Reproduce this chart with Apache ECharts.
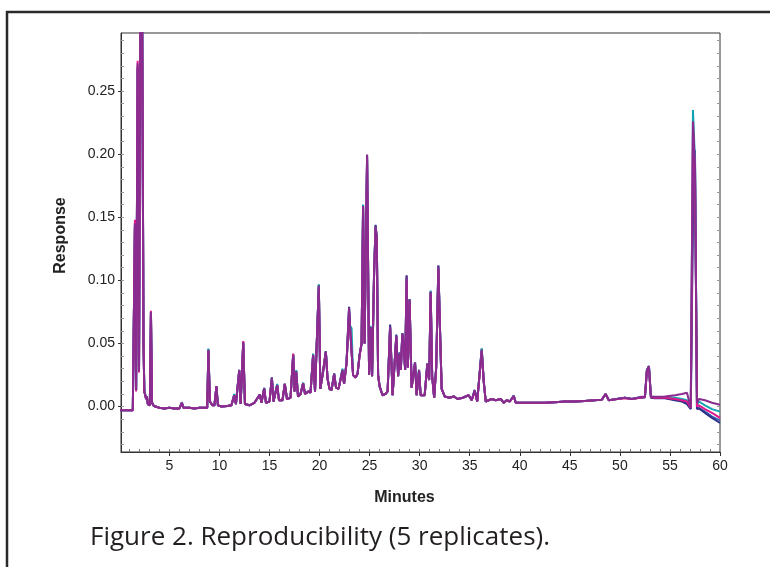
<!DOCTYPE html>
<html>
<head>
<meta charset="utf-8">
<script src="https://cdn.jsdelivr.net/npm/echarts@6/dist/echarts.min.js"></script>
<style>
html,body{margin:0;padding:0;background:#fff;}
#chart{width:770px;height:567px;}
</style>
</head>
<body>
<div id="chart"></div>
<script>
// Retention time (minutes), shared by all replicates
const minutes = [
  0, 1.35, 1.45, 1.56, 1.68, 1.83, 1.97, 2.2, 2.42, 2.5,
  2.6, 2.68, 2.75, 2.85, 2.95, 3.05, 3.16, 3.27, 3.4, 3.6,
  4.0, 4.5, 5.0, 5.5, 6.0, 6.25, 6.4, 7.0, 7.5, 8.0,
  8.5, 8.78, 8.9, 9.05, 9.3, 9.5, 9.7, 9.85, 10.2, 10.8,
  11.2, 11.48, 11.65, 11.98, 12.12, 12.38, 12.55, 13.0, 13.5, 14.04,
  14.2, 14.47, 14.65, 15.0, 15.24, 15.4, 15.77, 15.95, 16.3, 16.53,
  16.75, 17.1, 17.37, 17.5, 17.67, 17.85, 18.1, 18.36, 18.55, 18.9,
  19.1, 19.36, 19.55, 19.93, 20.08, 20.36, 20.63, 20.8, 21.0, 21.2,
  21.46, 21.65, 21.9, 22.29, 22.45, 22.7, 22.95, 23.05, 23.2, 23.35,
  23.6, 23.8, 24.0, 24.2, 24.35, 24.5, 24.75, 24.95, 25.1, 25.25,
  25.45, 25.6, 25.72, 25.85, 26.0, 26.3, 26.6, 26.8, 27.05, 27.3,
  27.67, 27.85, 28.0, 28.12, 28.27, 28.4, 28.55, 28.7, 28.82, 28.99,
  29.2, 29.54, 29.7, 29.94, 30.1, 30.5, 30.77, 30.95, 31.1, 31.25,
  31.45, 31.65, 31.87, 32.05, 32.2, 32.5, 33.0, 33.4, 33.8, 34.3,
  34.9, 35.2, 35.5, 35.75, 36.2, 36.4, 36.6, 37.2, 37.6, 38.1,
  38.4, 38.7, 39.0, 39.4, 39.6, 40.5, 41.5, 42.5, 43.5, 44.5,
  45.5, 46.5, 47.5, 48.2, 48.57, 48.9, 49.7, 50.5, 51.2, 52.0,
  52.5, 52.7, 52.9, 53.1, 53.5, 54.5, 55.5, 56.2, 56.7, 57.08,
  57.3, 57.5, 57.7, 57.9, 58.5, 59.2, 60.0
];

// Replicate responses
const replicate1 = [ // blue
  -0.003, -0.003, -0.002, 0.145, 0.013, 0.270, 0.028, 0.48, 0.050, 0.012,
  0.013, 0.006, 0.008, 0.002, 0.003, 0.001, 0.075, 0.003, 0.001, 0.0,
  -0.001, -0.0015, -0.001, -0.0015, -0.0015, 0.003, -0.001, -0.001, -0.0015, -0.001,
  -0.001, -0.001, 0.045, 0.004, 0.001, 0.001, 0.016, 0.001, 0.0, 0.0005,
  0.001, 0.009, 0.002, 0.029, 0.002, 0.051, 0.002, 0.001, 0.003, 0.0095,
  0.003, 0.0146, 0.003, 0.004, 0.023, 0.004, 0.017, 0.005, 0.005, 0.018,
  0.006, 0.007, 0.041, 0.012, 0.028, 0.008, 0.010, 0.0185, 0.010, 0.012,
  0.011, 0.041, 0.012, 0.096, 0.014, 0.028, 0.0437, 0.022, 0.014, 0.013,
  0.026, 0.015, 0.014, 0.029, 0.018, 0.035, 0.078, 0.063, 0.062, 0.025,
  0.023, 0.026, 0.041, 0.050, 0.159, 0.050, 0.198, 0.025, 0.063, 0.024,
  0.106, 0.143, 0.133, 0.025, 0.016, 0.009, 0.010, 0.012, 0.064, 0.009,
  0.056, 0.024, 0.042, 0.029, 0.058, 0.050, 0.029, 0.103, 0.031, 0.085,
  0.015, 0.035, 0.009, 0.029, 0.009, 0.009, 0.034, 0.021, 0.091, 0.024,
  0.007, 0.031, 0.111, 0.056, 0.014, 0.008, 0.007, 0.008, 0.006, 0.007,
  0.009, 0.005, 0.013, 0.004, 0.045, 0.020, 0.004, 0.006, 0.005, 0.006,
  0.003, 0.005, 0.004, 0.0085, 0.003, 0.003, 0.003, 0.003, 0.0035, 0.004,
  0.004, 0.0045, 0.005, 0.0055, 0.010, 0.005, 0.006, 0.007, 0.006, 0.0072,
  0.0074, 0.029, 0.032, 0.0072, 0.0068, 0.0068, 0.0055, 0.0045, 0.003, -0.0015,
  0.170, 0.195, -0.001, -0.001, -0.004, -0.008, -0.011
];
const replicate2 = [ // navy
  -0.003, -0.003, -0.002, 0.143, 0.013, 0.268, 0.028, 0.48, 0.050, 0.012,
  0.013, 0.006, 0.008, 0.002, 0.003, 0.001, 0.075, 0.003, 0.001, 0.0,
  -0.001, -0.0015, -0.001, -0.0015, -0.0015, 0.003, -0.001, -0.001, -0.0015, -0.001,
  -0.001, -0.001, 0.045, 0.004, 0.001, 0.001, 0.016, 0.001, 0.0, 0.0005,
  0.001, 0.009, 0.002, 0.029, 0.002, 0.051, 0.002, 0.001, 0.003, 0.0095,
  0.003, 0.0146, 0.003, 0.004, 0.023, 0.004, 0.017, 0.005, 0.005, 0.018,
  0.006, 0.007, 0.041, 0.012, 0.028, 0.008, 0.010, 0.0185, 0.010, 0.012,
  0.011, 0.041, 0.012, 0.096, 0.014, 0.028, 0.0437, 0.022, 0.014, 0.013,
  0.026, 0.015, 0.014, 0.029, 0.018, 0.035, 0.079, 0.063, 0.062, 0.025,
  0.023, 0.026, 0.041, 0.050, 0.160, 0.050, 0.199, 0.025, 0.063, 0.024,
  0.106, 0.144, 0.134, 0.025, 0.016, 0.009, 0.010, 0.012, 0.065, 0.009,
  0.057, 0.024, 0.043, 0.029, 0.058, 0.050, 0.029, 0.104, 0.031, 0.085,
  0.015, 0.035, 0.009, 0.029, 0.009, 0.009, 0.034, 0.021, 0.091, 0.024,
  0.007, 0.031, 0.112, 0.056, 0.014, 0.008, 0.007, 0.008, 0.006, 0.007,
  0.009, 0.005, 0.013, 0.004, 0.046, 0.020, 0.004, 0.006, 0.005, 0.006,
  0.003, 0.005, 0.004, 0.0085, 0.003, 0.003, 0.003, 0.003, 0.0035, 0.004,
  0.004, 0.0045, 0.005, 0.0055, 0.010, 0.005, 0.006, 0.007, 0.006, 0.007,
  0.0072, 0.029, 0.032, 0.007, 0.0065, 0.0065, 0.005, 0.004, 0.002, -0.002,
  0.150, 0.203, -0.002, -0.0015, -0.005, -0.009, -0.013
];
const replicate3 = [ // cyan
  -0.003, -0.003, -0.002, 0.142, 0.014, 0.265, 0.029, 0.49, 0.051, 0.013,
  0.013, 0.007, 0.008, 0.002, 0.003, 0.001, 0.074, 0.003, 0.001, 0.0,
  -0.001, -0.0015, -0.001, -0.0015, -0.0015, 0.0035, -0.001, -0.001, -0.0015, -0.001,
  -0.001, -0.001, 0.046, 0.004, 0.001, 0.001, 0.015, 0.001, 0.0, 0.0005,
  0.001, 0.010, 0.002, 0.029, 0.002, 0.050, 0.002, 0.001, 0.003, 0.0095,
  0.003, 0.015, 0.003, 0.004, 0.023, 0.004, 0.018, 0.005, 0.005, 0.018,
  0.006, 0.007, 0.041, 0.012, 0.029, 0.008, 0.010, 0.019, 0.010, 0.012,
  0.011, 0.042, 0.012, 0.097, 0.014, 0.028, 0.044, 0.022, 0.014, 0.013,
  0.026, 0.015, 0.014, 0.030, 0.018, 0.035, 0.072, 0.064, 0.062, 0.025,
  0.023, 0.026, 0.041, 0.050, 0.160, 0.050, 0.195, 0.025, 0.064, 0.024,
  0.107, 0.142, 0.133, 0.025, 0.016, 0.009, 0.010, 0.012, 0.063, 0.009,
  0.056, 0.024, 0.042, 0.029, 0.058, 0.050, 0.029, 0.102, 0.031, 0.085,
  0.015, 0.035, 0.009, 0.029, 0.009, 0.009, 0.034, 0.021, 0.092, 0.024,
  0.007, 0.031, 0.110, 0.056, 0.014, 0.008, 0.007, 0.008, 0.006, 0.007,
  0.009, 0.005, 0.013, 0.004, 0.046, 0.020, 0.004, 0.006, 0.005, 0.006,
  0.003, 0.005, 0.004, 0.0085, 0.003, 0.003, 0.003, 0.003, 0.0035, 0.004,
  0.004, 0.0045, 0.005, 0.0055, 0.010, 0.005, 0.006, 0.007, 0.006, 0.0075,
  0.0078, 0.029, 0.032, 0.008, 0.0075, 0.0075, 0.007, 0.006, 0.005, 0.0,
  0.235, 0.195, 0.001, 0.004, 0.001, -0.002, -0.004
];
const replicate4 = [ // magenta
  -0.003, -0.003, -0.002, 0.148, 0.012, 0.274, 0.027, 0.47, 0.049, 0.012,
  0.013, 0.006, 0.008, 0.002, 0.003, 0.001, 0.076, 0.003, 0.001, 0.0,
  -0.001, -0.0015, -0.001, -0.0015, -0.0015, 0.003, -0.001, -0.001, -0.0015, -0.001,
  -0.001, -0.001, 0.044, 0.004, 0.001, 0.001, 0.016, 0.001, 0.0, 0.0005,
  0.001, 0.009, 0.002, 0.028, 0.002, 0.052, 0.002, 0.001, 0.003, 0.0095,
  0.003, 0.014, 0.003, 0.004, 0.022, 0.004, 0.017, 0.005, 0.005, 0.018,
  0.006, 0.007, 0.042, 0.012, 0.027, 0.008, 0.010, 0.018, 0.010, 0.012,
  0.011, 0.040, 0.012, 0.094, 0.014, 0.028, 0.043, 0.022, 0.014, 0.013,
  0.025, 0.015, 0.014, 0.028, 0.018, 0.034, 0.074, 0.062, 0.061, 0.025,
  0.023, 0.026, 0.040, 0.050, 0.157, 0.050, 0.197, 0.025, 0.062, 0.024,
  0.104, 0.141, 0.132, 0.025, 0.016, 0.009, 0.010, 0.012, 0.062, 0.009,
  0.055, 0.024, 0.041, 0.029, 0.057, 0.049, 0.029, 0.100, 0.031, 0.084,
  0.015, 0.034, 0.009, 0.028, 0.009, 0.009, 0.033, 0.021, 0.090, 0.024,
  0.007, 0.030, 0.109, 0.055, 0.014, 0.008, 0.007, 0.008, 0.006, 0.007,
  0.009, 0.005, 0.012, 0.004, 0.044, 0.020, 0.004, 0.006, 0.005, 0.006,
  0.003, 0.005, 0.004, 0.008, 0.003, 0.003, 0.003, 0.003, 0.0035, 0.004,
  0.004, 0.0045, 0.005, 0.0055, 0.010, 0.005, 0.006, 0.0065, 0.006, 0.007,
  0.0075, 0.028, 0.031, 0.0075, 0.007, 0.007, 0.006, 0.005, 0.004, -0.001,
  0.220, 0.185, 0.0, 0.001, -0.002, -0.005, -0.009
];
const replicate5 = [ // purple
  -0.003, -0.003, -0.002, 0.145, 0.013, 0.272, 0.028, 0.48, 0.050, 0.012,
  0.013, 0.006, 0.008, 0.002, 0.003, 0.001, 0.075, 0.003, 0.001, 0.0,
  -0.001, -0.0015, -0.001, -0.0015, -0.0015, 0.003, -0.001, -0.001, -0.0015, -0.001,
  -0.001, -0.001, 0.045, 0.004, 0.001, 0.001, 0.016, 0.001, 0.0, 0.0005,
  0.001, 0.009, 0.002, 0.029, 0.002, 0.051, 0.002, 0.001, 0.003, 0.0095,
  0.003, 0.0146, 0.003, 0.004, 0.023, 0.004, 0.017, 0.005, 0.005, 0.018,
  0.006, 0.007, 0.041, 0.012, 0.028, 0.008, 0.010, 0.0185, 0.010, 0.012,
  0.011, 0.041, 0.012, 0.096, 0.014, 0.028, 0.0437, 0.022, 0.014, 0.013,
  0.026, 0.015, 0.014, 0.029, 0.018, 0.035, 0.078, 0.063, 0.062, 0.025,
  0.023, 0.026, 0.041, 0.050, 0.159, 0.050, 0.1998, 0.025, 0.063, 0.024,
  0.106, 0.143, 0.133, 0.025, 0.016, 0.009, 0.010, 0.012, 0.0635, 0.009,
  0.056, 0.024, 0.042, 0.029, 0.058, 0.050, 0.029, 0.103, 0.031, 0.085,
  0.015, 0.035, 0.009, 0.029, 0.009, 0.009, 0.034, 0.021, 0.091, 0.024,
  0.007, 0.031, 0.111, 0.056, 0.014, 0.008, 0.007, 0.008, 0.006, 0.007,
  0.009, 0.005, 0.013, 0.004, 0.045, 0.020, 0.004, 0.006, 0.005, 0.006,
  0.003, 0.005, 0.004, 0.0085, 0.003, 0.003, 0.003, 0.003, 0.0035, 0.004,
  0.004, 0.0045, 0.005, 0.0055, 0.010, 0.005, 0.006, 0.007, 0.006, 0.0075,
  0.0079, 0.029, 0.032, 0.008, 0.0077, 0.008, 0.009, 0.010, 0.011, -0.0007,
  0.226, 0.190, 0.003, 0.006, 0.005, 0.003, 0.0015
];

const replicates = [replicate1, replicate2, replicate3, replicate4, replicate5];
const replicateNames = ['Replicate 1', 'Replicate 2', 'Replicate 3', 'Replicate 4', 'Replicate 5'];
const replicateColors = ['#3a5fb0', '#2b3188', '#14a3b3', '#e2198a', '#8a2c8f'];

// Axis tick values
const xLabelValues = [5, 10, 15, 20, 25, 30, 35, 40, 45, 50, 55, 60];
const xMinorValues = [1,2,3,4,5,6,7,8,9,10,11,12,13,14,15,16,17,18,19,20,21,22,23,24,25,26,27,28,29,30,
  31,32,33,34,35,36,37,38,39,40,41,42,43,44,45,46,47,48,49,50,51,52,53,54,55,56,57,58,59];
const yLabelValues = [0, 0.05, 0.10, 0.15, 0.20, 0.25];
const yMinorValues = [-0.03,-0.02,-0.01,0,0.01,0.02,0.03,0.04,0.05,0.06,0.07,0.08,0.09,0.10,0.11,0.12,
  0.13,0.14,0.15,0.16,0.17,0.18,0.19,0.20,0.21,0.22,0.23,0.24,0.25,0.26,0.27,0.28,0.29];

const X_MIN = 0.17, X_MAX = 60, Y_MIN = -0.036, Y_MAX = 0.296;
const FONT = '"Liberation Sans", Arial, sans-serif';

const chart = echarts.init(document.getElementById('chart'), null, {renderer: 'canvas'});

const series = replicates.map((vals, i) => ({
  name: replicateNames[i],
  type: 'line',
  xAxisIndex: 0,
  yAxisIndex: 0,
  data: minutes.map((t, j) => [t, vals[j]]),
  showSymbol: false,
  symbol: 'none',
  clip: true,
  lineStyle: {width: 2, color: replicateColors[i]},
  itemStyle: {color: replicateColors[i]},
  z: 2 + i
}));

chart.setOption({
  animation: false,
  backgroundColor: '#fff',
  textStyle: {fontFamily: FONT},
  grid: {left: 121, right: 50, top: 33, bottom: 115, show: true, borderColor: '#333', borderWidth: 1, containLabel: false},
  title: {
    text: 'Figure 2. Reproducibility (5 replicates).',
    left: 85, top: 520,
    textStyle: {fontFamily: '"Open Sans", "Noto Sans", sans-serif', fontSize: 26, fontWeight: 'normal', color: '#231f20'}
  },
  xAxis: [
    {
      type: 'value', min: X_MIN, max: X_MAX,
      name: 'Minutes', nameLocation: 'middle', nameGap: 38,
      nameTextStyle: {fontFamily: FONT, fontSize: 16, fontWeight: 'bold', color: '#222', padding: [0, 32, 0, 0]},
      axisLine: {show: true, onZero: false, lineStyle: {color: '#333', width: 1}},
      axisTick: {show: true, customValues: xLabelValues, length: 4, inside: false, lineStyle: {color: '#333'}},
      axisLabel: {show: true, customValues: xLabelValues, margin: 7, fontFamily: FONT, fontSize: 14, color: '#222'},
      splitLine: {show: false}
    },
    {
      type: 'value', min: X_MIN, max: X_MAX, position: 'bottom',
      axisLine: {show: false, onZero: false},
      axisTick: {show: true, customValues: xMinorValues, length: 3, inside: true, lineStyle: {color: '#777'}},
      axisLabel: {show: false},
      splitLine: {show: false}
    }
  ],
  yAxis: [
    {
      type: 'value', min: Y_MIN, max: Y_MAX,
      name: 'Response', nameLocation: 'middle', nameGap: 52, nameRotate: 90,
      nameTextStyle: {fontFamily: FONT, fontSize: 16, fontWeight: 'bold', color: '#222', padding: [0, 0, 0, 14]},
      axisLine: {show: true, onZero: false, lineStyle: {color: '#333', width: 1}},
      axisTick: {show: true, customValues: yLabelValues, length: 3, inside: false, lineStyle: {color: '#333'}},
      axisLabel: {show: true, customValues: yLabelValues, margin: 6, fontFamily: FONT, fontSize: 14, color: '#222',
        formatter: v => v.toFixed(2)},
      splitLine: {show: false}
    },
    {
      type: 'value', min: Y_MIN, max: Y_MAX, position: 'left',
      axisLine: {show: false, onZero: false},
      axisTick: {show: true, customValues: yMinorValues, length: 3, inside: true, lineStyle: {color: '#999'}},
      axisLabel: {show: false},
      splitLine: {show: false}
    },
    {
      type: 'value', min: Y_MIN, max: Y_MAX, position: 'right',
      axisLine: {show: false, onZero: false},
      axisTick: {show: true, customValues: yMinorValues, length: 3, inside: true, lineStyle: {color: '#999'}},
      axisLabel: {show: false},
      splitLine: {show: false}
    }
  ],
  graphic: [
    {type: 'line', shape: {x1: 6, y1: 12, x2: 770, y2: 12}, style: {stroke: '#2a2a2a', lineWidth: 2.5}, silent: true},
    {type: 'line', shape: {x1: 7, y1: 11, x2: 7, y2: 567}, style: {stroke: '#2a2a2a', lineWidth: 2.5}, silent: true}
  ],
  series: series
});
</script>
</body>
</html>
